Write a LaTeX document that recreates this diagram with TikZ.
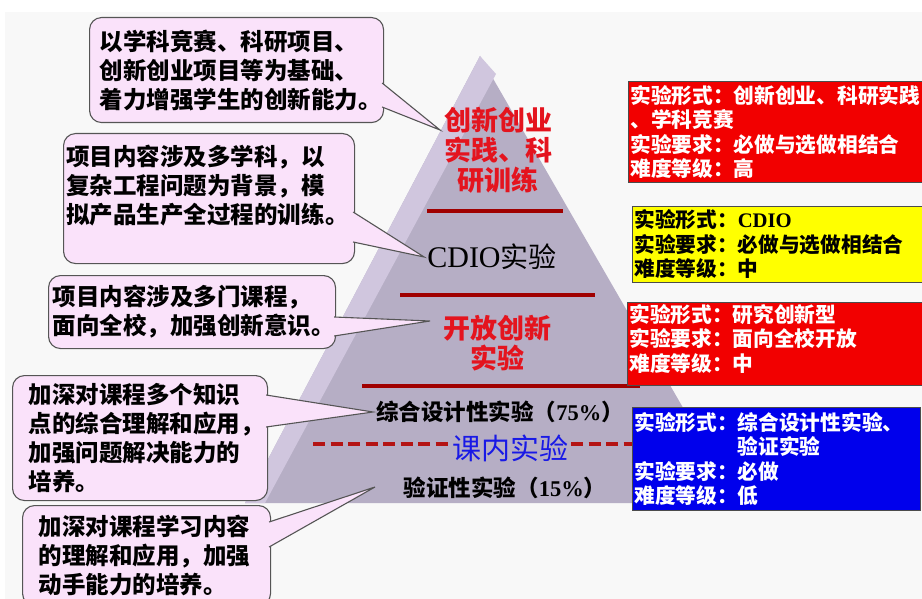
\documentclass[tikz,border=0pt]{standalone}
\usepackage{fontspec}
\setmainfont{Liberation Serif}
\newfontfamily\cjk{Noto Sans CJK SC}
\usetikzlibrary{calc}
\definecolor{bgc}{RGB}{248,248,248}
\definecolor{pyr}{RGB}{182,174,197}
\definecolor{pyrlight}{RGB}{208,198,222}
\definecolor{bubblefill}{RGB}{250,226,250}
\definecolor{bubbleline}{RGB}{85,85,85}
\definecolor{sepred}{RGB}{160,0,0}
\definecolor{dashred}{RGB}{180,20,20}
\definecolor{txtred}{RGB}{228,20,30}
\definecolor{txtblue}{RGB}{25,25,230}
\definecolor{boxred}{RGB}{242,0,0}
\definecolor{boxyellow}{RGB}{255,255,0}
\definecolor{boxblue}{RGB}{0,0,236}
\tikzset{
  bubble/.style={draw=bubbleline, fill=bubblefill, rounded corners=12pt, line width=1.1pt,
    align=left, anchor=north west, inner ysep=0pt,
    font=\cjk\bfseries\fontsize{23.5}{29}\selectfont},
  tail/.style={draw=bubbleline, fill=bubblefill, line width=1.1pt, line join=miter},
  infobox/.style={draw=black!70, line width=0.6pt, anchor=north west, inner xsep=2pt,
    inner ysep=0pt, align=left, font=\cjk\bfseries\fontsize{20.7}{24.5}\selectfont},
  sepline/.style={draw=sepred, line width=4pt},
  dashline/.style={draw=dashred, line width=3.5pt, dash pattern=on 12pt off 5.5pt},
  pyrtext/.style={align=center, inner sep=3pt},
}
\begin{document}
\begin{tikzpicture}[x=1pt, y=-1pt]
\useasboundingbox (0,0) rectangle (922,599);
\fill[white] (0,0) rectangle (922,599);
\fill[bgc] (5,12) rectangle (922,599);
% pyramid
\fill[pyr] (480,56) -- (738,503) -- (245,503) -- cycle;
\fill[pyrlight] (480,56) -- (496,74) -- (265,503) -- (245,503) -- cycle;
% separators
\draw[sepline] (427,211) -- (563,211);
\draw[sepline] (400,295) -- (595,295);
\draw[sepline] (362,386) -- (640,386);
% pyramid texts
\node[pyrtext, text=txtred, font=\cjk\bfseries\fontsize{27}{30}\selectfont] (t1) at (498,150)
  {创新创业\\实践、科\\研训练};
\node[pyrtext, text=black] (t2) at (492,257)
  {{\fontsize{30}{30}\selectfont CDIO}{\cjk\fontsize{28}{30}\selectfont 实验}};
\node[pyrtext, text=txtred, font=\cjk\bfseries\fontsize{27}{30}\selectfont] (t3) at (497,343)
  {开放创新\\实验};
\node[pyrtext, text=black, font=\cjk\bfseries\fontsize{22.5}{26}\selectfont] (t4) at (500,412)
  {综合设计性实验（{\rmfamily\bfseries 75\%}）};
\node[pyrtext, text=txtblue, font=\cjk\fontsize{29}{30}\selectfont] (t5) at (510,448)
  {课内实验};
\node[pyrtext, text=black, font=\cjk\bfseries\fontsize{22.5}{26}\selectfont] (t6) at (505,488)
  {验证性实验（{\rmfamily\bfseries 15\%}）};
% callout boxes
\node[bubble, minimum width=294pt, minimum height=105pt, text width=274pt, inner xsep=10pt] (b1) at (89,17)
  {以学科竞赛、科研项目、\\创新创业项目等为基础、\\着力增强学生的创新能力。};
\node[bubble, minimum width=291pt, minimum height=130pt, text width=286pt, inner xsep=2.5pt] (b2) at (63,133)
  {项目内容涉及多学科，以\\复杂工程问题为背景，模\\拟产品生产全过程的训练\hspace{1pt}。\\\mbox{}};
\node[bubble, minimum width=287pt, minimum height=73pt, text width=279pt, inner xsep=4pt] (b3) at (48,275)
  {项目内容涉及多门课程，\\面向全校，加强创新意识。};
\node[bubble, minimum width=255pt, minimum height=125pt, text width=239pt, inner xsep=8pt] (b4) at (12,375)
  {\hspace*{8pt}加深对课程多个知识\\\hspace*{8pt}点的综合理解和应用，\\\hspace*{8pt}加强问题解决能力的\\\hspace*{8pt}培养。};
\node[bubble, minimum width=248pt, minimum height=100pt, text width=232pt, inner xsep=8pt] (b5) at (22,505)
  {\hspace*{8pt}加深对课程学习内容\\\hspace*{8pt}的理解和应用，加强\\\hspace*{8pt}动手能力的培养。};
% tail tips
\coordinate (c1) at (440,130);
\coordinate (c3) at (430,321);
\coordinate (c5) at (375,487);
% tails
\filldraw[tail] ($(b1.north east)+(-2,66)$) -- (c1) -- ($(b1.north east)+(-2,90)$);
\filldraw[tail] ($(b2.north east)+(-2,79)$) -- (t2.west) -- ($(b2.north east)+(-2,109)$);
\filldraw[tail] ($(b3.north east)+(-2,42)$) -- (c3) -- ($(b3.north east)+(-2,61)$);
\filldraw[tail] ($(b4.north east)+(-2,20)$) -- (t4.west) -- ($(b4.north east)+(-2,52)$);
\filldraw[tail] ($(b5.north east)+(-2,17)$) -- (c5) -- ($(b5.north east)+(-2,42)$);
% info boxes
\node[infobox, fill=boxred, text=white, minimum width=296pt, minimum height=101pt, text width=300pt] (r1) at (628,81)
  {实验形式：创新创业、科研实践\\、学科竞赛\\实验要求：必做与选做相结合\\难度等级：高};
\node[infobox, fill=boxyellow, text=black, minimum width=292pt, minimum height=76pt, text width=288pt] (r2) at (632,206)
  {实验形式：{\rmfamily\bfseries CDIO}\\实验要求：必做与选做相结合\\难度等级：中};
\node[infobox, fill=boxred, text=white, minimum width=297pt, minimum height=83pt, text width=293pt] (r3) at (627,302)
  {实验形式：研究创新型\\实验要求：面向全校开放\\难度等级：中\\[-12pt]\mbox{}};
\node[infobox, fill=boxblue, text=white, minimum width=288pt, minimum height=103pt, text width=284pt] (r4) at (632,407)
  {实验形式：综合设计性实验、\\\hspace*{5em}验证实验\\实验要求：必做\\难度等级：低};
% dashed line through 课内实验
\coordinate (dl) at (313,444);
\draw[dashline] (dl) -- (dl -| t5.west);
\draw[dashline] (t5.east |- dl) -- (dl -| r4.west);
\end{tikzpicture}
\end{document}
